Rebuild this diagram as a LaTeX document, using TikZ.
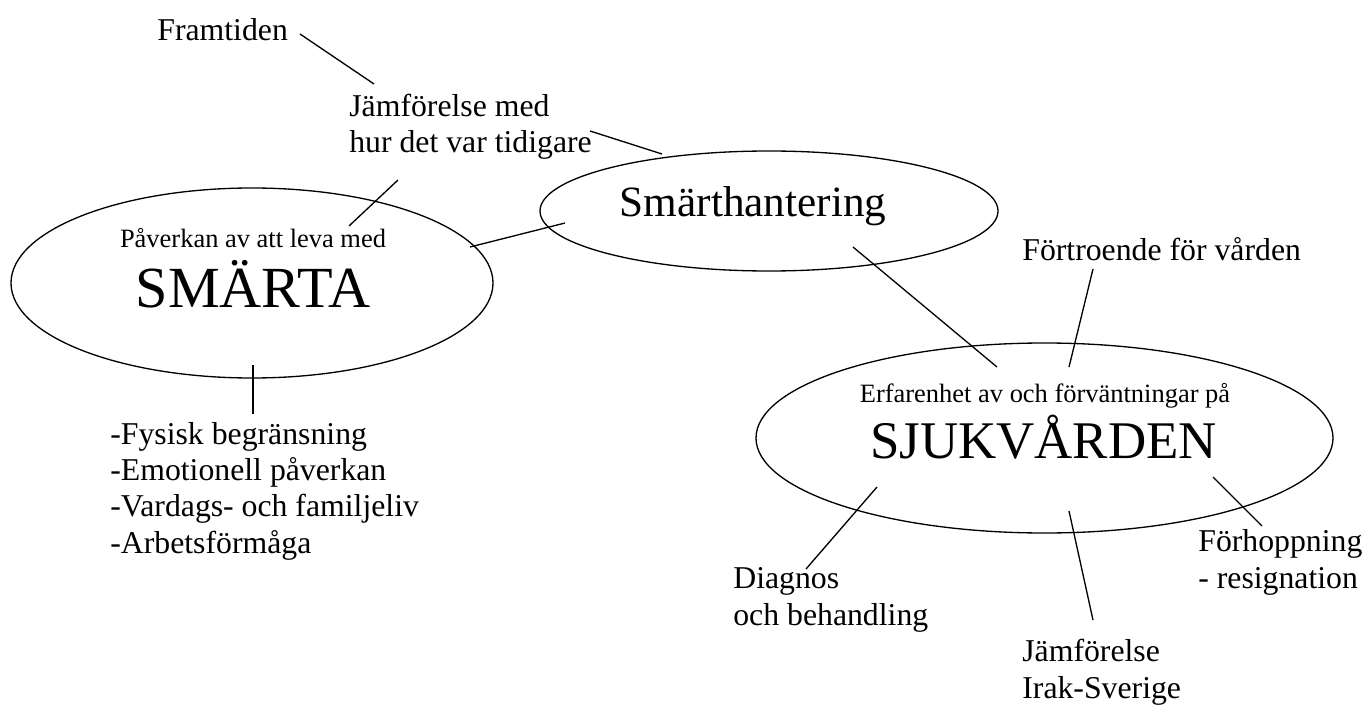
\documentclass[tikz,border=0pt]{standalone}
\usepackage{fontspec}
\setmainfont{Liberation Serif}
\usetikzlibrary{shapes.geometric}
\begin{document}
\begin{tikzpicture}[x=0.5669pt,y=-0.5669pt,
  oval/.style={draw,ellipse,line width=0.75pt,inner sep=0pt},
  link/.style={line width=0.75pt},
  lbl/.style={anchor=base west,inner sep=0pt,align=left,font=\fontsize{18}{20.5}\selectfont},
  small/.style={anchor=base,inner sep=0pt,font=\fontsize{15}{17}\selectfont},
  big/.style={anchor=base,inner sep=0pt,font=\fontsize{31}{34}\selectfont}]
\useasboundingbox (0,0) rectangle (1365,706);
% ellipses
\node[oval,minimum width=458*0.5669pt,minimum height=120*0.5669pt] (hant) at (769,211) {};
\node[oval,minimum width=482*0.5669pt,minimum height=190*0.5669pt] (smarta) at (252,283) {};
\node[oval,minimum width=577*0.5669pt,minimum height=190*0.5669pt] (sjuk) at (1044.5,438) {};
% texts in ellipses
\node[anchor=base,inner sep=0pt,font=\fontsize{24.5}{28}\selectfont] (hantT) at (753,217) {Smärthantering};
\node[small] (pav) at (253,247) {Påverkan av att leva med};
\node[big,font=\fontsize{33}{36}\selectfont] (smT) at (253,308) {SMÄRTA};
\node[small] (erf) at (1045,402) {Erfarenhet av och förväntningar på};
\node[big,font=\fontsize{30}{34}\selectfont] (sjT) at (1043.5,458) {SJUKVÅRDEN};
% outer labels (anchor base = baseline of the last line)
\node[lbl] (fram) at (157,41) {Framtiden};
\node[lbl] (jmf) at (349,153) {Jämförelse med\\hur det var tidigare};
\node[lbl] (list) at (110,553) {-Fysisk begränsning\\-Emotionell påverkan\\-Vardags- och familjeliv\\-Arbetsförmåga};
\node[lbl] (fort) at (1022,260) {Förtroende för vården};
\node[lbl] (diag) at (733,625) {Diagnos\\och behandling};
\node[lbl] (irak) at (1022,698) {Jämförelse\\Irak-Sverige};
\node[lbl] (hopp) at (1198,588) {Förhoppning\\- resignation};
% connector end points
\coordinate (a1) at (300,34);   \coordinate (a2) at (374,84);
\coordinate (b1) at (590,131);  \coordinate (b2) at (662,154);
\coordinate (c1) at (398,180);  \coordinate (c2) at (349,226);
\coordinate (d1) at (470,247);  \coordinate (d2) at (565,223);
\coordinate (e1) at (253,365);  \coordinate (e2) at (253,414);
\coordinate (f1) at (853,247);  \coordinate (f2) at (997,367);
\coordinate (g1) at (1093,269); \coordinate (g2) at (1069,367);
\coordinate (h1) at (877,487);  \coordinate (h2) at (806,569);
\coordinate (i1) at (1069,511); \coordinate (i2) at (1093,620);
\coordinate (j1) at (1213,477); \coordinate (j2) at (1262,526);
\draw[link] (a1) -- (a2);
\draw[link] (b1) -- (b2);
\draw[link] (c1) -- (c2);
\draw[link] (d1) -- (d2);
\draw[link] (e1) -- (e2);
\draw[link] (f1) -- (f2);
\draw[link] (g1) -- (g2);
\draw[link] (h1) -- (h2);
\draw[link] (i1) -- (i2);
\draw[link] (j1) -- (j2);
\end{tikzpicture}
\end{document}
